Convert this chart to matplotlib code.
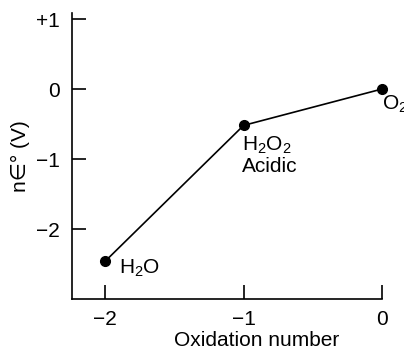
import matplotlib
matplotlib.use("Agg")
import matplotlib.pyplot as plt

plt.rcParams['font.family'] = ['Liberation Sans', 'DejaVu Sans']
plt.rcParams['mathtext.fontset'] = 'custom'
plt.rcParams['mathtext.rm'] = 'Liberation Sans'
plt.rcParams['mathtext.it'] = 'Liberation Sans'
plt.rcParams['mathtext.default'] = 'rm'

oxidation = [-2, -1, 0]
n_e = [-2.46, -0.52, 0.0]
labels = ["H$_2$O", "H$_2$O$_2$\nAcidic", "O$_2$"]
xticks = [-2, -1, 0]
xticklabels = ["\u22122", "\u22121", "0"]
yticks = [1, 0, -1, -2]
yticklabels = ["+1", "0", "\u22121", "\u22122"]

W, H = 404, 350
FS = 15
fig = plt.figure(figsize=(W/100, H/100), dpi=100)
ax = fig.add_axes([72/W, 1-299/H, (382-72)/W, (299-13)/H])
ax.plot(oxidation, n_e, color='black', lw=1.2, marker='o', ms=7, clip_on=False, zorder=3)
ax.set_xlim(-2.24, 0)
ax.set_ylim(-3, 1.086)
ax.spines['top'].set_visible(False)
ax.spines['right'].set_visible(False)
for s in ['left', 'bottom']:
    ax.spines[s].set_linewidth(1.2)
ax.set_xticks(xticks)
ax.set_xticklabels(xticklabels)
ax.set_yticks(yticks)
ax.set_yticklabels(yticklabels)
ax.tick_params(direction='in', length=10, width=1.2, labelsize=FS, pad=8)
ax.tick_params(axis='y', pad=9)
ax.set_xlabel("Oxidation number", fontsize=FS, va='center')
ax.xaxis.set_label_coords(0.597, (299-340)/286)
ax.set_ylabel("n\u2208\u00b0 (V)", fontsize=FS, labelpad=4)

ax.annotate(labels[0], (oxidation[0], n_e[0]), xytext=(10, -5), textcoords='offset points',
            ha='left', va='center', fontsize=FS)
ax.annotate(labels[1], (oxidation[1], n_e[1]), xytext=(-1, -7), textcoords='offset points',
            ha='left', va='top', fontsize=FS, linespacing=1.05)
ax.annotate(labels[2], (oxidation[2], n_e[2]), xytext=(0, -11), textcoords='offset points',
            ha='left', va='center', fontsize=FS, annotation_clip=False)

fig.savefig("out.png", dpi=100)
